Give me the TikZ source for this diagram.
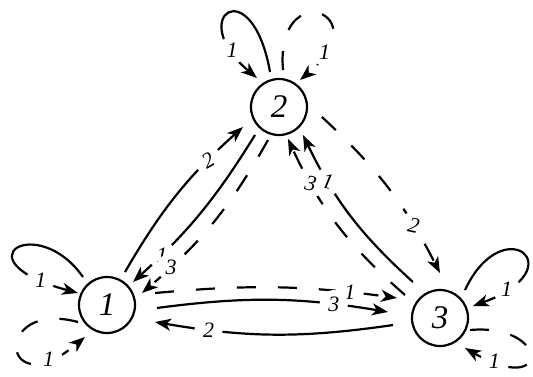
\documentclass[tikz,border=0pt]{standalone}
\usepackage{fontspec}
\setmainfont{Liberation Serif}
\usetikzlibrary{arrows.meta}
\begin{document}
\begin{tikzpicture}[x=1pt,y=1pt,
  state/.style={circle,draw,line width=2.2pt,minimum size=56pt,inner sep=0pt,font=\fontsize{33}{33}\selectfont\itshape},
  edge/.style={line width=2.2pt,-{Stealth[length=16pt,width=12pt,inset=4.5pt]}},
  dsh/.style={dash pattern=on 19pt off 22pt},
  lab/.style={circle,fill=white,inner sep=3.5pt,font=\fontsize{22}{22}\selectfont\itshape}
]
\useasboundingbox (0,0) rectangle (533,-376);
\node[state] (n1) at (107,-305) {1};
\node[state] (n2) at (279,-107) {2};
\node[state] (n3) at (440,-318) {3};

% edges between 1 and 2
\draw[edge] ([shift={(61.4:37.6)}]n1.center) to[bend left=9] node[lab,pos=0.76,rotate=30]{2} ([shift={(209:41.2)}]n2.center);
\draw[edge] ([shift={(229.4:36.9)}]n2.center) to[bend left=8] node[lab,pos=0.81]{1} ([shift={(41.5:34.7)}]n1.center);
\draw[edge,dsh] ([shift={(251.6:34.8)}]n2.center) to[bend left=10] node[lab,pos=0.82]{3} ([shift={(18.9:37)}]n1.center);

% edges between 2 and 3
\draw[edge,dsh] ([shift={(-13.1:44.1)}]n2.center) to[bend left=10] node[lab,pos=0.74,rotate=-12]{2} ([shift={(90:45)}]n3.center);
\draw[edge] ([shift={(126.9:45)}]n3.center) to[bend left=11] node[lab,pos=0.73,rotate=-12]{1} ([shift={(-49.4:36.9)}]n2.center);
\draw[edge,dsh] ([shift={(146.7:41.9)}]n3.center) to[bend left=12] node[lab,pos=0.76,rotate=-12]{3} ([shift={(-74.3:33.2)}]n2.center);

% edges between 1 and 3
\draw[edge,dsh] ([shift={(14:49.5)}]n1.center) to[bend left=6.5] node[lab,pos=0.82]{1} ([shift={(155:47.4)}]n3.center);
\draw[edge] ([shift={(-3.4:50.1)}]n1.center) to[bend left=8.5] node[lab,pos=0.78]{3} ([shift={(173.4:52.3)}]n3.center);
\draw[edge] ([shift={(188.5:47.5)}]n3.center) to[bend left=9] node[lab,pos=0.79]{2} ([shift={(-19.5:50.9)}]n1.center);

% loops
\draw[edge] ([shift={(130.6:36.9)}]n1.center) .. controls +(125:80) and +(165:125) .. node[lab,pos=0.87]{1} ([shift={(157.5:31.4)}]n1.center);
\draw[edge,dsh] ([shift={(210.4:33.6)}]n1.center) .. controls +(165:90) and +(220:110) .. node[lab,pos=0.83]{1} ([shift={(235.5:38.8)}]n1.center);
\draw[edge] ([shift={(104.4:36.1)}]n2.center) .. controls +(100:105) and +(140:95) .. node[lab,pos=0.84]{1} ([shift={(127.2:36.4)}]n2.center);
\draw[edge,dsh] ([shift={(83.8:37.2)}]n2.center) .. controls +(95:95) and +(40:105) .. node[lab,pos=0.85]{1} ([shift={(52.1:34.2)}]n2.center);
\draw[edge] ([shift={(48.2:37.5)}]n3.center) .. controls +(65:90) and +(20:110) .. node[lab,pos=0.86]{1} ([shift={(20:35.1)}]n3.center);
\draw[edge,dsh] ([shift={(-21.8:32.3)}]n3.center) .. controls +(5:80) and +(-30:100) .. node[lab,pos=0.87]{1} ([shift={(-50.2:39)}]n3.center);
\end{tikzpicture}
\end{document}
